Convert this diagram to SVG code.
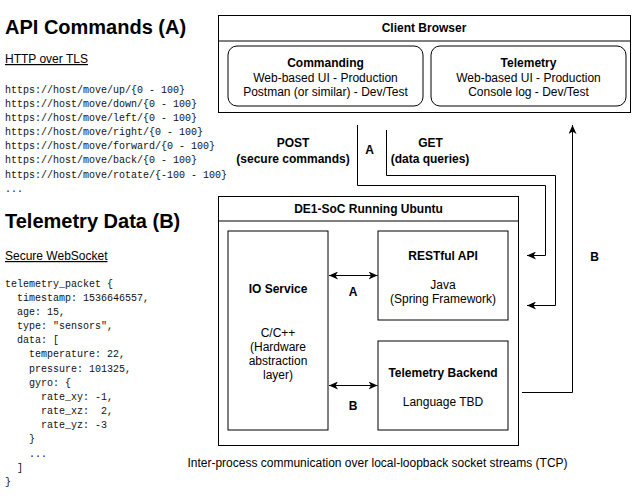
<svg xmlns="http://www.w3.org/2000/svg" width="632" height="501" viewBox="0 0 632 501">
<defs>
<style>
text{font-family:"Liberation Sans",Arial,sans-serif;fill:#000}
.h1{font-size:20px;font-weight:bold}
.sub{font-size:12px;text-decoration:underline}
.mono{font-family:"Liberation Mono","Courier New",monospace;font-size:10px;fill:#111;white-space:pre}
.b{font-size:12px;font-weight:bold;text-anchor:middle}
.r{font-size:12px;text-anchor:middle}
.box{fill:#fff;stroke:#000;stroke-width:1}
.line{fill:none;stroke:#000;stroke-width:1}
</style>
<marker id="arr" markerUnits="userSpaceOnUse" markerWidth="10" markerHeight="8" refX="9" refY="4" orient="auto-start-reverse" viewBox="0 0 10 8">
<path d="M0,0 L9,4 L0,8 L2.5,4 Z" fill="#000"/>
</marker>
</defs>
<rect width="632" height="501" fill="#fff"/>

<g id="api-commands-text">
<text class="h1" x="5" y="34">API Commands (A)</text>
<text class="sub" x="5" y="63">HTTP over TLS</text>
<text class="mono" x="5" y="92.5">https://host/move/up/{0 - 100}</text>
<text class="mono" x="5" y="106.7">https://host/move/down/{0 - 100}</text>
<text class="mono" x="5" y="120.8">https://host/move/left/{0 - 100}</text>
<text class="mono" x="5" y="135">https://host/move/right/{0 - 100}</text>
<text class="mono" x="5" y="149.2">https://host/move/forward/{0 - 100}</text>
<text class="mono" x="5" y="163.3">https://host/move/back/{0 - 100}</text>
<text class="mono" x="5" y="177.5">https://host/move/rotate/{-100 - 100}</text>
<text class="mono" x="5" y="191.7">...</text>
</g>

<g id="telemetry-data-text">
<text class="h1" x="5" y="228">Telemetry Data (B)</text>
<text class="sub" x="5" y="260">Secure WebSocket</text>
<text class="mono" x="5" y="286.5">telemetry_packet {</text>
<text class="mono" x="5" y="300.7">  timestamp: 1536646557,</text>
<text class="mono" x="5" y="314.8">  age: 15,</text>
<text class="mono" x="5" y="329">  type: "sensors",</text>
<text class="mono" x="5" y="343.2">  data: [</text>
<text class="mono" x="5" y="357.3">    temperature: 22,</text>
<text class="mono" x="5" y="371.5">    pressure: 101325,</text>
<text class="mono" x="5" y="385.7">    gyro: {</text>
<text class="mono" x="5" y="399.8">      rate_xy: -1,</text>
<text class="mono" x="5" y="414">      rate_xz:  2,</text>
<text class="mono" x="5" y="428.2">      rate_yz: -3</text>
<text class="mono" x="5" y="442.3">    }</text>
<text class="mono" x="5" y="456.5">    ...</text>
<text class="mono" x="5" y="470.7">  ]</text>
<text class="mono" x="5" y="484.8">}</text>
</g>

<g id="client-browser">
<rect class="box" x="218.5" y="15.5" width="412" height="97"/>
<line class="line" x1="218.5" y1="41" x2="630.5" y2="41"/>
<text class="b" x="424" y="32">Client Browser</text>
</g>
<g id="commanding">
<rect class="box" x="228" y="46" width="195" height="60" rx="9" ry="9"/>
<text class="b" x="325.5" y="67">Commanding</text>
<text class="r" x="325.5" y="82">Web-based UI - Production</text>
<text class="r" x="325.5" y="96">Postman (or similar) - Dev/Test</text>
</g>
<g id="telemetry">
<rect class="box" x="431" y="46" width="195" height="60" rx="9" ry="9"/>
<text class="b" x="528.5" y="67">Telemetry</text>
<text class="r" x="528.5" y="82">Web-based UI - Production</text>
<text class="r" x="528.5" y="96">Console log - Dev/Test</text>
</g>

<g id="de1-soc">
<rect class="box" x="218.5" y="196.5" width="300" height="249"/>
<line class="line" x1="218.5" y1="221" x2="518.5" y2="221"/>
<text class="b" x="368.5" y="212.5">DE1-SoC Running Ubuntu</text>
</g>
<g id="io-service">
<rect class="box" x="228" y="231" width="100" height="199"/>
<text class="b" x="278" y="293">IO Service</text>
<text class="r" x="278" y="337">C/C++</text>
<text class="r" x="278" y="351">(Hardware</text>
<text class="r" x="278" y="365">abstraction</text>
<text class="r" x="278" y="379">layer)</text>
</g>
<g id="restful-api">
<rect class="box" x="378" y="231" width="130" height="89"/>
<text class="b" x="443" y="259.5">RESTful API</text>
<text class="r" x="443" y="288.5">Java</text>
<text class="r" x="443" y="303">(Spring Framework)</text>
</g>
<g id="telemetry-backend">
<rect class="box" x="378" y="341" width="130" height="89"/>
<text class="b" x="443" y="377">Telemetry Backend</text>
<text class="r" x="443" y="406">Language TBD</text>
</g>

<g id="connectors">
<line class="line" x1="329" y1="275.5" x2="377.5" y2="275.5" marker-start="url(#arr)" marker-end="url(#arr)"/>
<line class="line" x1="329" y1="385.5" x2="377.5" y2="385.5" marker-start="url(#arr)" marker-end="url(#arr)"/>
<polyline class="line" points="357.5,125 357.5,185.5 545.5,185.5 545.5,255.5 527,255.5" marker-end="url(#arr)"/>
<polyline class="line" points="386.5,130 386.5,175.5 555.5,175.5 555.5,305.5 527,305.5" marker-end="url(#arr)"/>
<polyline class="line" points="522,392.5 572.5,392.5 572.5,125" marker-end="url(#arr)"/>
</g>

<g id="labels">
<text class="b" x="293" y="146.5">POST</text>
<text class="b" x="293" y="162.5">(secure commands)</text>
<text class="b" x="369.5" y="153.5">A</text>
<text class="b" x="430.5" y="146.5">GET</text>
<text class="b" x="430" y="162.5">(data queries)</text>
<text class="b" x="353" y="296">A</text>
<text class="b" x="353" y="409.5">B</text>
<text class="b" x="594.5" y="261">B</text>
<text class="r" x="377.5" y="467">Inter-process communication over local-loopback socket streams (TCP)</text>
</g>
</svg>
